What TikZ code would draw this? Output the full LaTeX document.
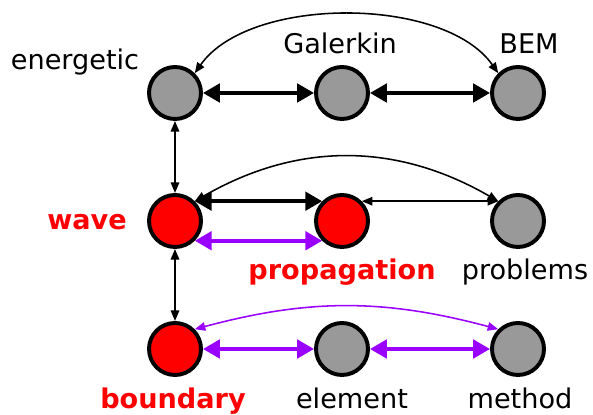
\documentclass[tikz,border=0pt]{standalone}
\usepackage{fontspec}
\setmainfont{DejaVu Sans}
\usepackage{tikz}
\usetikzlibrary{arrows.meta}
\definecolor{bemGray}{HTML}{999999}
\definecolor{bemRed}{HTML}{FF0000}
\definecolor{bemViolet}{HTML}{9900FF}

\begin{document}
\begin{tikzpicture}[
    font=\fontsize{19.3}{22}\selectfont,
    term/.style={circle,draw=black,line width=2.8pt,fill=bemGray,minimum size=1.3cm,inner sep=0pt},
    hot/.style={term,fill=bemRed},
    word/.style={anchor=base,inner sep=0pt,text=black},
    hotword/.style={word,text=bemRed,font=\fontsize{19.3}{22}\selectfont\bfseries},
    link/.style={draw=black,line width=1.1pt,{Triangle[length=7.5pt,width=6pt]}-{Triangle[length=7.5pt,width=6pt]}},
    biglink/.style={draw=black,line width=2.8pt,{Triangle[length=12pt,width=13pt]}-{Triangle[length=12pt,width=13pt]}},
    vlink/.style={link,draw=bemViolet},
    bigvlink/.style={biglink,draw=bemViolet}
  ]
    \useasboundingbox (0,0) rectangle (14.825,10.375);

    \node[term] (energetic)   at (4.375,8.05) {};
    \node[term] (Galerkin)    at (8.55,8.05)  {};
    \node[term] (BEM)         at (12.95,8.05) {};
    \node[hot]  (wave)        at (4.375,4.85) {};
    \node[hot]  (propagation) at (8.55,4.85)  {};
    \node[term] (problems)    at (12.95,4.85) {};
    \node[hot]  (boundary)    at (4.375,1.65) {};
    \node[term] (element)     at (8.55,1.65)  {};
    \node[term] (method)      at (12.95,1.65) {};

    \node[word]    (energeticTxt)   at (1.875,8.625) {energetic};
    \node[word]    (GalerkinTxt)    at (8.5,9.025)   {Galerkin};
    \node[word]    (BEMTxt)         at (13.225,9.025){BEM};
    \node[hotword] (waveTxt)        at (2.175,4.625) {wave};
    \node[hotword] (propagationTxt) at (8.55,3.375)  {propagation};
    \node[word]    (problemsTxt)    at (13.125,3.375){problems};
    \node[hotword] (boundaryTxt)    at (4.325,0.15)  {boundary};
    \node[word]    (elementTxt)     at (8.8,0.15)    {element};
    \node[word]    (methodTxt)      at (13.0,0.15)   {method};

    \draw[biglink] (energetic) -- (Galerkin);
    \draw[biglink] (Galerkin)  -- (BEM);
    \draw[link] (energetic.north east) to[out=55,in=125,looseness=0.8] (BEM.north west);

    \draw[link] (energetic) -- (wave);
    \draw[link] (wave)      -- (boundary);

    \draw[biglink]  (wave.north east) -- (propagation.north west);
    \draw[bigvlink] (wave.south east) -- (propagation.south west);
    \draw[link] (propagation.north east) -- (problems.north west);
    \draw[link] (wave.north east) to[bend left=30] (problems.north west);

    \draw[bigvlink] (boundary) -- (element);
    \draw[bigvlink] (element)  -- (method);
    \draw[vlink] (boundary.north east) to[bend left=15] (method.north west);
  \end{tikzpicture}
\end{document}
